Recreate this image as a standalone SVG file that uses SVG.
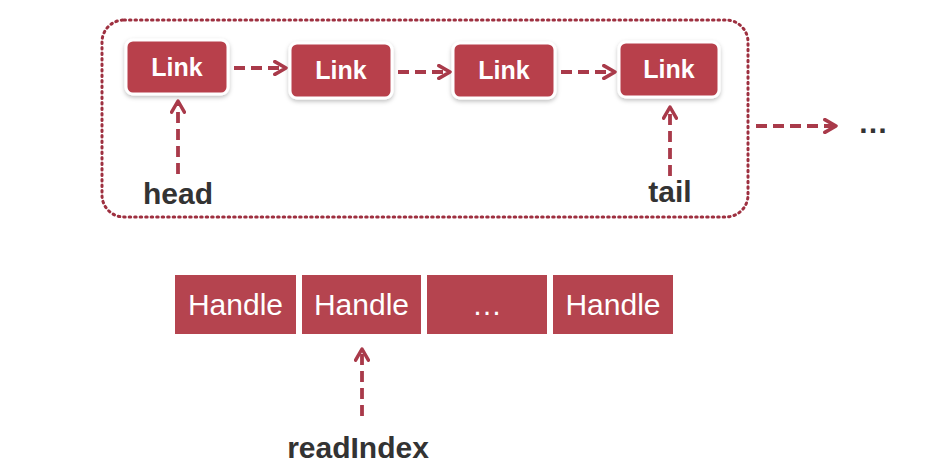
<svg xmlns="http://www.w3.org/2000/svg" width="935" height="475" viewBox="0 0 935 475">
<defs>
<marker id="ah" viewBox="0 0 10 10" refX="8" refY="5" markerWidth="4.2" markerHeight="4.2" orient="auto" markerUnits="strokeWidth">
<path d="M1,1 L8,5 L1,9" fill="none" stroke="#a93a4a" stroke-width="2.2" stroke-linecap="round" stroke-linejoin="round"/>
</marker>
<filter id="sh" x="-20%" y="-20%" width="140%" height="150%">
<feDropShadow dx="0" dy="2" stdDeviation="2" flood-color="#000" flood-opacity="0.25"/>
</filter>
</defs>
<style>
.link{fill:#b83f4c;stroke:#fff;stroke-width:3;filter:url(#sh)}
.lt{font-family:"Liberation Sans",Arial,sans-serif;font-size:25px;font-weight:bold;fill:#fff;text-anchor:middle}
.hd{fill:#b5444f}
.ht{font-family:"Liberation Sans",Arial,sans-serif;font-size:30px;fill:#fff;text-anchor:middle}
.lbl{font-family:"Liberation Sans",Arial,sans-serif;font-size:30px;font-weight:bold;fill:#333;text-anchor:middle}
.arr{fill:none;stroke:#a93a4a;stroke-width:3.8;stroke-dasharray:11 6;marker-end:url(#ah)}
</style>
<rect width="935" height="475" fill="#fff"/>
<rect id="container" x="102" y="20" width="646" height="197" rx="22" fill="none" stroke="#9e3040" stroke-width="3" stroke-dasharray="1.5 4" stroke-linecap="round"/>
<g id="link1"><rect class="link" x="126" y="40" width="102" height="54" rx="7"/><text class="lt" x="177" y="76">Link</text></g>
<g id="link2"><rect class="link" x="290" y="43" width="102" height="55" rx="7"/><text class="lt" x="341" y="79">Link</text></g>
<g id="link3"><rect class="link" x="453" y="43" width="102" height="55" rx="7"/><text class="lt" x="504" y="79">Link</text></g>
<g id="link4"><rect class="link" x="619" y="42" width="100" height="55" rx="7"/><text class="lt" x="669" y="78">Link</text></g>
<g id="ellipsis-top"><text class="lbl" x="873" y="133">…</text></g>
<g id="head"><text class="lbl" x="178" y="204">head</text></g>
<g id="tail"><text class="lbl" x="670" y="202">tail</text></g>
<g id="h1"><rect class="hd" x="175" y="275" width="121" height="59"/><text class="ht" x="235.5" y="315">Handle</text></g>
<g id="h2"><rect class="hd" x="302" y="275" width="119" height="59"/><text class="ht" x="361.5" y="315">Handle</text></g>
<g id="h3"><rect class="hd" x="427" y="275" width="120" height="59"/><text class="ht" x="487" y="315">…</text></g>
<g id="h4"><rect class="hd" x="553" y="275" width="120" height="59"/><text class="ht" x="613" y="315">Handle</text></g>
<g id="readIndex"><text class="lbl" x="358" y="458">readIndex</text></g>
<g id="connectors">
<path class="arr" d="M234,68 H286"/>
<path class="arr" d="M398,72 H450"/>
<path class="arr" d="M561,72 H615"/>
<path class="arr" d="M756,126 H836"/>
<path class="arr" d="M178,174 V101"/>
<path class="arr" d="M670,176 V107"/>
<path class="arr" d="M362,416 V349"/>
</g>
</svg>
